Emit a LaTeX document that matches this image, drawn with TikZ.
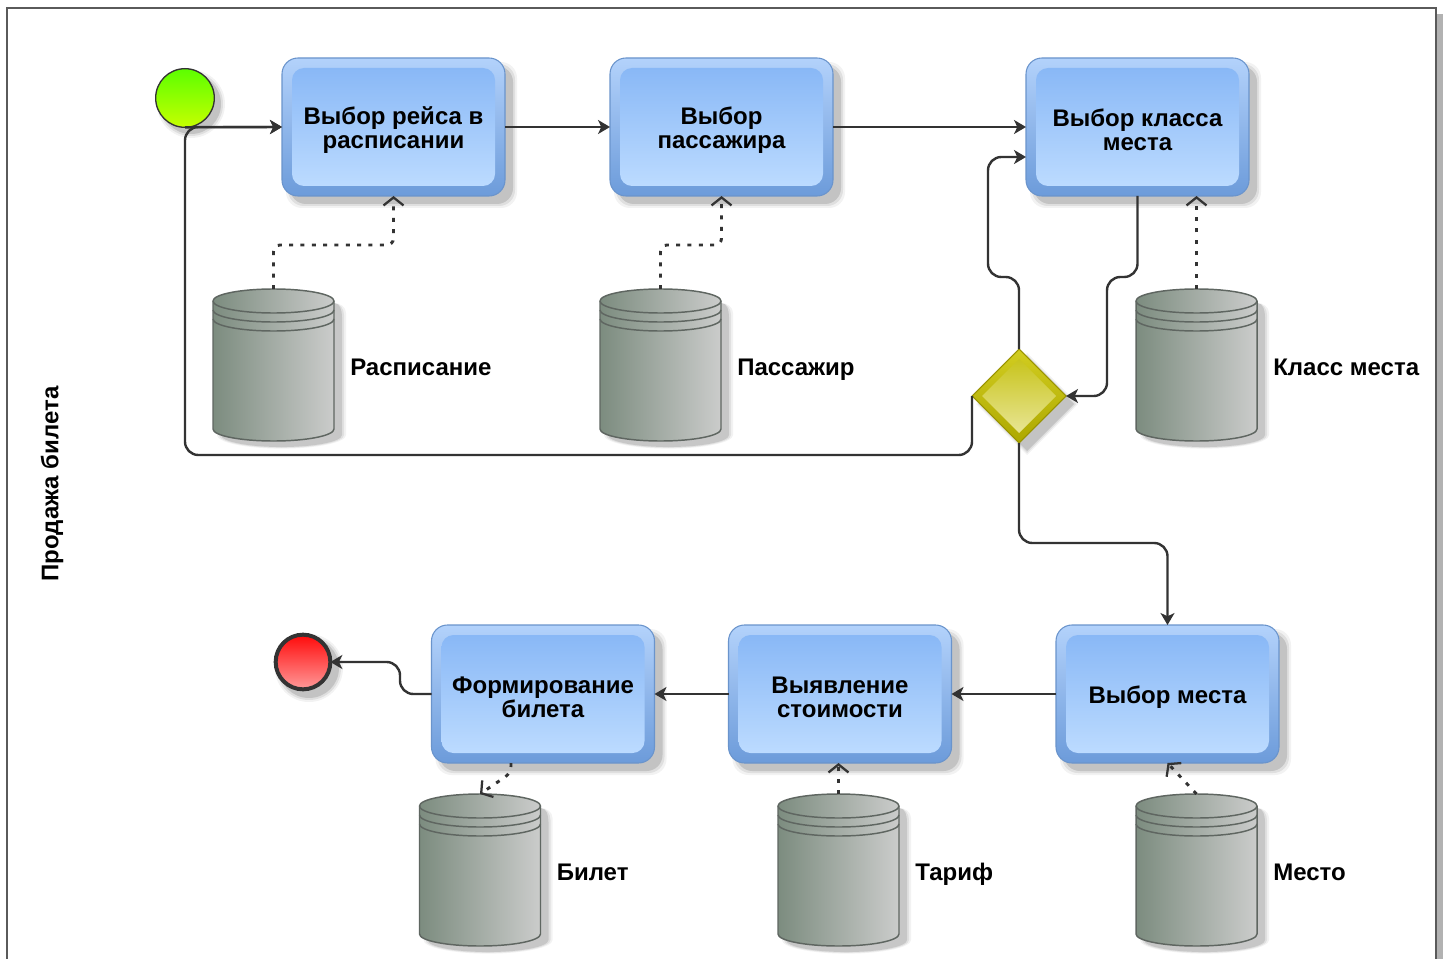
\documentclass[tikz,border=0pt]{standalone}
\usepackage{fontspec}
\setmainfont{Liberation Sans}
\usetikzlibrary{arrows.meta,shapes.geometric,calc}

\definecolor{lineC}{HTML}{333333}
\definecolor{frameC}{HTML}{5A5A5A}
\definecolor{taskRimTop}{HTML}{B3D2FB}
\definecolor{taskRimBot}{HTML}{6C9BDA}
\definecolor{taskBorder}{HTML}{6A94CC}
\definecolor{taskInTop}{HTML}{89B8F6}
\definecolor{taskInBot}{HTML}{BCDBFF}
\definecolor{dbLeft}{HTML}{7C8C7F}
\definecolor{dbRight}{HTML}{CBCCCB}
\definecolor{dbEdge}{HTML}{5F6661}
\definecolor{gwTop}{HTML}{D2CD20}
\definecolor{gwBot}{HTML}{ADA800}
\definecolor{gwEdge}{HTML}{989200}
\definecolor{gwInTop}{HTML}{C8C41C}
\definecolor{gwInBot}{HTML}{E8E594}
\definecolor{startTop}{HTML}{5CFF00}
\definecolor{startBot}{HTML}{C6FF00}
\definecolor{endTop}{HTML}{FF0A0A}
\definecolor{endBot}{HTML}{FF9A9A}

\tikzset{
  taskAnchor/.style={minimum width=167.25pt, minimum height=103.5pt, inner sep=0pt,
    outer sep=0pt},
  taskText/.style={inner sep=0pt, align=center, text=black,
    font=\fontsize{18pt}{18pt}\selectfont\bfseries},
  storeLabel/.style={inner sep=0pt, text=black,
    font=\fontsize{18pt}{18pt}\selectfont\bfseries},
  flow/.style={draw=lineC, line width=1.8pt, rounded corners=10pt,
    -{Stealth[length=9pt,width=10.5pt,inset=2.5pt]}},
  dataflow/.style={draw=lineC, line width=2.2pt, rounded corners=5pt,
    dash pattern=on 3pt off 5.5pt,
    -{Straight Barb[length=6pt,width=15pt,line width=1.7pt]}},
}

% rounded task box with bevelled rim; #1 name, #2 x, #3 y, #4 text
\newcommand\taskbox[4]{%
  \begin{scope}[shift={(#2,-#3)}]
    \foreach \s/\o in {0/0.12,2/0.08,4/0.05}{%
      \fill[black,opacity=\o,rounded corners=12pt]
        (-103.5-\s,-77-\s) rectangle (119.5+\s,61+\s);}
    \shade[top color=taskRimTop,bottom color=taskRimBot,draw=taskBorder,
      line width=0.8pt,rounded corners=12pt] (-111.5,-69) rectangle (111.5,69);
    \shade[top color=taskInTop,bottom color=taskInBot,rounded corners=9pt]
      (-101.5,-59) rectangle (101.5,59);
    \node[taskAnchor] (#1) at (0,0) {};
    \node[taskText] (#1text) at (0,-3) {#4};
  \end{scope}}

% data store cylinder; #1 name, #2 x of centre, #3 y of top, #4 label
\newcommand\datastore[4]{%
  \begin{scope}[shift={(#2,-#3)}]
    \foreach \s/\o in {0/0.11,2/0.07,4/0.05}{%
      \pgfmathsetmacro\rx{(60.5+\s)*0.75}%
      \pgfmathsetmacro\ry{(12+\s*0.4)*0.75}%
      \fill[black,opacity=\o] (8-60.5-\s,-40) -- (8-60.5-\s,-146)
        arc[start angle=180,end angle=360,x radius=\rx pt,y radius=\ry pt]
        -- (8+60.5+\s,-28+\s) to[out=90,in=0] (60.5,-14) -- (0,-30) -- cycle;}
    \shade[left color=dbLeft,right color=dbRight,draw=dbEdge,line width=1.1pt]
      (-60.5,-12) -- (-60.5,-140)
      arc[start angle=180,end angle=360,x radius=45.375pt,y radius=9pt]
      -- (60.5,-12)
      arc[start angle=0,end angle=180,x radius=45.375pt,y radius=9pt] -- cycle;
    \foreach \d in {0,9,18}{%
      \draw[dbEdge,line width=1.1pt] (-60.5,-12-\d)
        arc[start angle=180,end angle=360,x radius=45.375pt,y radius=9pt];}
    \coordinate (#1) at (0,0);
    \node[storeLabel,anchor=base west] (#1label) at (76.5,-86) {#4};
  \end{scope}}

\begin{document}
\begin{tikzpicture}[x=0.75pt,y=0.75pt]
  \useasboundingbox (0,0) rectangle (1444,-959);
  \fill[white] (0,0) rectangle (1444,-959);

  % pool frame
  \fill[black!30] (1437,-14) rectangle (1443,-990);
  \draw[frameC,line width=1.5pt] (7,-8) rectangle (1436,-990);
  \node[storeLabel,rotate=90] (lane) at (52,-484) {Продажа билета};

  % tasks
  \taskbox{t1}{393.5}{127}{Выбор рейса в\\расписании}
  \taskbox{t2}{721.5}{127}{Выбор\\пассажира}
  \taskbox{t3}{1137.5}{127}{Выбор класса\\места}
  \taskbox{t4}{1167.5}{694}{Выбор места}
  \taskbox{t5}{840}{694}{Выявление\\стоимости}
  \taskbox{t6}{543}{694}{Формирование\\билета}

  % data stores
  \datastore{db1}{273.5}{289}{Расписание}
  \datastore{db2}{660.5}{289}{Пассажир}
  \datastore{db3}{1196.5}{289}{Класс места}
  \datastore{db4}{480}{794}{Билет}
  \datastore{db5}{838.5}{794}{Тариф}
  \datastore{db6}{1196.5}{794}{Место}

  % gateway
  \begin{scope}[shift={(1019,-396)}]
    \foreach \s/\o in {0/0.12,2/0.08,4/0.05}{%
      \fill[black,opacity=\o] (8,39+\s) -- (55+\s,-8) -- (8,-55-\s) -- (-39-\s,-8) -- cycle;}
    \shade[top color=gwTop,bottom color=gwBot,draw=gwEdge,line width=0.8pt]
      (0,47) -- (47,0) -- (0,-47) -- (-47,0) -- cycle;
    \shade[top color=gwInTop,bottom color=gwInBot]
      (0,37) -- (37,0) -- (0,-37) -- (-37,0) -- cycle;
    \node[diamond,aspect=1,minimum width=70.5pt,minimum height=70.5pt,
      inner sep=0pt,outer sep=0pt] (gw) at (0,0) {};
  \end{scope}

  % start and end events
  \foreach \s/\o in {0/0.12,2/0.08,4/0.05}{%
    \fill[black,opacity=\o] (191,-104) circle[radius=(30+\s)*0.75pt];
    \fill[black,opacity=\o] (309,-668) circle[radius=(30+\s)*0.75pt];}
  \node[circle,minimum size=44pt,inner sep=0pt,outer sep=0pt,
    top color=startTop,bottom color=startBot,draw=lineC,line width=1pt] (start) at (185,-98) {};
  \node[circle,minimum size=41pt,inner sep=0pt,outer sep=0pt,
    top color=endTop,bottom color=endBot,draw=lineC,line width=3pt] (end) at (303,-662) {};

  % bend points
  \coordinate (loopBL) at (185,-455);
  \coordinate (s1) at (1107,-277);
  \coordinate (s2) at (988,-277);
  \coordinate (t3in) at ($(t3.west)+(0,-30)$);
  \coordinate (s3) at (1167.5,-543);
  \coordinate (s4) at (400,-662);
  \coordinate (d1) at ($(t1.south)+(0,-49)$);
  \coordinate (d2) at ($(t2.south)+(0,-49)$);
  \coordinate (d4) at ($(t6.south)+(-32,0)$);

  % sequence flows
  \draw[flow] (start.south) -- (t1.west);
  \draw[flow] (t1.east) -- (t2.west);
  \draw[flow] (t2.east) -- (t3.west);
  \draw[flow] (t3.south) |- (s1) |- (gw.east);
  \draw[flow] (gw.north) |- (s2) |- (t3in);
  \draw[flow] (gw.west) |- (loopBL) |- (t1.west);
  \draw[flow] (gw.south) |- (s3) -- (t4.north);
  \draw[flow] (t4.west) -- (t5.east);
  \draw[flow] (t5.west) -- (t6.east);
  \draw[flow] (t6.west) -| (s4) -- (end.east);

  % data associations
  \draw[dataflow] (db1) |- (d1) -- (t1.south);
  \draw[dataflow] (db2) |- (d2) -- (t2.south);
  \draw[dataflow] (db3) -- (db3 |- t3.south);
  \draw[dataflow] (d4) -- ++(0,-10) -- (db4);
  \draw[dataflow] (db5) -- (db5 |- t5.south);
  \draw[dataflow] (db6) -- (t4.south);
\end{tikzpicture}
\end{document}
